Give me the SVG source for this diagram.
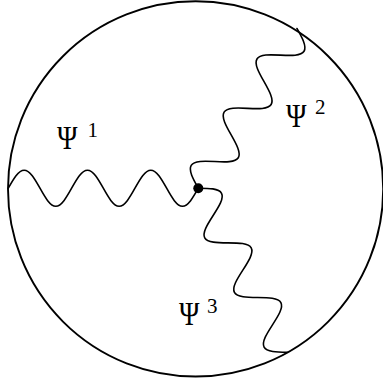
<svg xmlns="http://www.w3.org/2000/svg" xmlns:xlink="http://www.w3.org/1999/xlink" width="383" height="384" viewBox="0 0 383 384">
<style>
.wave{fill:none;stroke:#000;stroke-width:1.6;stroke-linecap:round;stroke-linejoin:round}
.big{font-family:"Liberation Serif","DejaVu Serif",serif;font-size:33px;fill:#000}
.sup{font-family:"Liberation Serif","DejaVu Serif",serif;font-size:21px;fill:#000}
</style>
<defs>
<path id="w" d="M0,0 c5.163,-9.221 10.103,-18 15.833,-18 c5.730,0 10.670,8.779 15.833,18 c5.163,9.221 10.103,18 15.833,18 c5.730,0 10.670,-8.779 15.833,-18 c5.163,-9.221 10.103,-18 15.833,-18 c5.730,0 10.670,8.779 15.833,18 c5.163,9.221 10.103,18 15.833,18 c5.730,0 10.670,-8.779 15.833,-18 c5.163,-9.221 10.103,-18 15.833,-18 c5.730,0 10.670,8.779 15.833,18 c5.163,9.221 10.103,18 15.833,18 c5.730,0 10.670,-8.779 15.833,-18"/>
</defs>
<rect width="383" height="384" fill="#fff"/>
<g id="boundary">
<circle cx="195.6" cy="188.9" r="187.6" fill="none" stroke="#000" stroke-width="1.9"/>
</g>
<g id="connectors">
<use xlink:href="#w" href="#w" class="wave" transform="translate(198.3,188.2) rotate(180)"/>
<use xlink:href="#w" href="#w" class="wave" transform="translate(198.3,188.2) rotate(-58.3) scale(0.988,1)"/>
<use xlink:href="#w" href="#w" class="wave" transform="translate(198.3,188.2) rotate(61.5) scale(0.982,1)"/>
</g>
<g id="vertex">
<circle cx="198.3" cy="188.2" r="5" fill="#000"/>
</g>
<g id="label-psi1">
<text class="big" x="57" y="149" textLength="20.5" lengthAdjust="spacingAndGlyphs">Ψ</text><text class="sup" x="87.5" y="136.5">1</text>
</g>
<g id="label-psi2">
<text class="big" x="286" y="127" textLength="20.5" lengthAdjust="spacingAndGlyphs">Ψ</text><text class="sup" x="315" y="113.5">2</text>
</g>
<g id="label-psi3">
<text class="big" x="179" y="325" textLength="20.5" lengthAdjust="spacingAndGlyphs">Ψ</text><text class="sup" x="207" y="312.5">3</text>
</g>
</svg>
